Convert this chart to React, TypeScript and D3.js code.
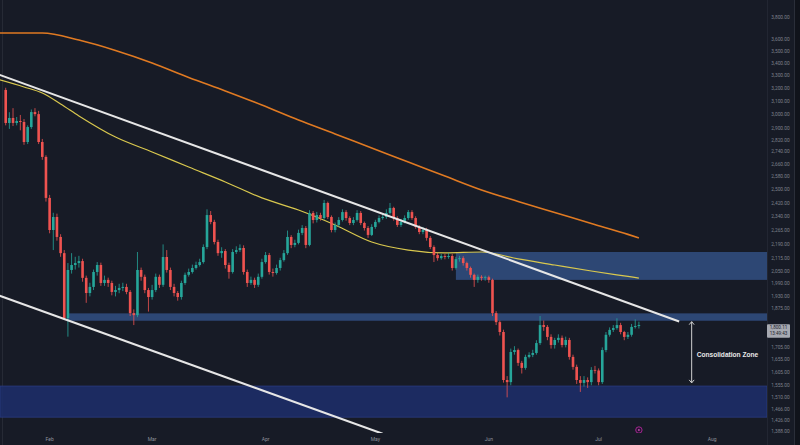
import React from 'react';
import * as d3 from 'd3';

const START = '2022-01-20';
const X_END = '2022-08-16';
const firstOpen = 3188;
const closes = [
  2942, 2978, 2942, 2956, 2949, 2809, 2913, 3021, 3006, 2809,
  2709, 2452, 2268, 2341, 2230, 2144, 1831, 2058, 2083, 2093,
  2103, 2019, 1946, 1975, 2048, 2083, 1994, 2009, 1994, 1951,
  1960, 1970, 1975, 1951, 1853, 1844, 2058, 2024, 1960, 1927,
  1960, 2024, 1985, 2124, 2058, 1975, 1946, 1927, 1994, 2034,
  2048, 2068, 2083, 2098, 2176, 2352, 2313, 2203, 2144, 2155,
  2083, 2048, 2150, 2160, 2171, 2048, 1994, 2009, 1985, 2024,
  2098, 2134, 2048, 2043, 2068, 2108, 2144, 2230, 2187, 2198,
  2252, 2279, 2187, 2364, 2324, 2352, 2335, 2422, 2341, 2268,
  2296, 2324, 2369, 2335, 2307, 2324, 2364, 2307, 2279, 2241,
  2285, 2313, 2335, 2341, 2364, 2393, 2335, 2296, 2313, 2335,
  2369, 2335, 2285, 2257, 2268, 2225, 2176, 2134, 2118, 2129,
  2124, 2129, 2068, 2113, 2118, 2093, 2068, 2034, 2009, 2024,
  2019, 2022, 2009, 1853, 1813, 1770, 1575, 1567, 1686, 1694,
  1642, 1622, 1666, 1674, 1682, 1723, 1800, 1792, 1749, 1715,
  1736, 1745, 1715, 1736, 1666, 1626, 1575, 1564, 1575, 1567,
  1614, 1612, 1567, 1694, 1758, 1779, 1787, 1800, 1770, 1749,
  1758, 1792, 1796, 1800.11,
];
const highs = [
  3205, 3020, 3050, 2985, 3000, 2970, 2925, 3040, 3050, 3030,
  2830, 2720, 2470, 2365, 2360, 2245, 2160, 2093, 2144, 2125,
  2130, 2115, 2030, 1995, 2060, 2098, 2095, 2030, 2020, 2005,
  1980, 1990, 1995, 1990, 1960, 1870, 2150, 2070, 2035, 1970,
  1985, 2040, 2035, 2190, 2160, 2070, 1990, 1955, 2005, 2045,
  2065, 2085, 2100, 2115, 2190, 2385, 2375, 2325, 2215, 2175,
  2165, 2095, 2165, 2180, 2190, 2185, 2060, 2025, 2020, 2040,
  2115, 2150, 2145, 2065, 2085, 2120, 2160, 2265, 2240, 2215,
  2270, 2295, 2290, 2380, 2375, 2370, 2365, 2440, 2430, 2350,
  2310, 2340, 2385, 2380, 2345, 2340, 2380, 2375, 2315, 2290,
  2300, 2325, 2350, 2360, 2385, 2422, 2400, 2345, 2330, 2350,
  2381, 2380, 2345, 2295, 2285, 2280, 2235, 2185, 2145, 2140,
  2140, 2145, 2140, 2125, 2130, 2128, 2100, 2075, 2040, 2035,
  2032, 2030, 2030, 2015, 1862, 1820, 1780, 1590, 1700, 1710,
  1700, 1650, 1675, 1685, 1695, 1735, 1840, 1820, 1800, 1760,
  1745, 1760, 1755, 1750, 1745, 1675, 1635, 1590, 1590, 1585,
  1625, 1630, 1620, 1705, 1770, 1790, 1800, 1830, 1810, 1775,
  1770, 1805, 1825, 1815,
];
const lows = [
  2925, 2900, 2920, 2925, 2890, 2790, 2795, 2900, 2990, 2795,
  2690, 2430, 2250, 2160, 2210, 2125, 1822, 1750, 2040, 2060,
  2070, 2000, 1900, 1930, 1960, 2030, 1980, 1980, 1975, 1935,
  1930, 1945, 1955, 1940, 1840, 1800, 1835, 2005, 1945, 1860,
  1915, 1950, 1970, 1975, 2045, 1960, 1930, 1910, 1915, 1985,
  2025, 2040, 2060, 2075, 2090, 2165, 2300, 2190, 2130, 2120,
  2065, 2015, 2040, 2140, 2150, 2035, 1975, 1985, 1970, 1975,
  2015, 2090, 2035, 2025, 2035, 2055, 2100, 2135, 2170, 2175,
  2190, 2240, 2170, 2180, 2305, 2310, 2320, 2325, 2330, 2255,
  2255, 2285, 2315, 2320, 2295, 2295, 2315, 2295, 2265, 2225,
  2235, 2275, 2305, 2325, 2330, 2355, 2320, 2285, 2285, 2305,
  2325, 2325, 2275, 2245, 2245, 2210, 2165, 2098, 2105, 2110,
  2112, 2115, 2055, 2060, 2100, 2080, 2055, 2020, 1975, 1995,
  2005, 2005, 1995, 1840, 1800, 1755, 1565, 1510, 1555, 1675,
  1630, 1600, 1615, 1660, 1665, 1675, 1715, 1775, 1735, 1700,
  1700, 1725, 1705, 1705, 1655, 1615, 1560, 1530, 1550, 1545,
  1555, 1600, 1555, 1560, 1685, 1750, 1770, 1780, 1760, 1735,
  1740, 1750, 1785, 1785,
];

const ma200Dates = ['2022-01-18', '2022-01-30', '2022-02-09', '2022-02-19', '2022-03-01', '2022-03-11', '2022-03-21', '2022-03-31', '2022-04-10', '2022-04-20', '2022-04-30', '2022-05-10', '2022-05-20', '2022-05-30', '2022-06-09', '2022-06-19', '2022-06-29', '2022-07-09', '2022-07-12'];
const ma200 = [3661, 3661, 3599, 3509, 3404, 3286, 3180, 3073, 2963, 2865, 2768, 2676, 2586, 2500, 2431, 2367, 2304, 2244, 2224];
const ma100Dates = ['2022-01-18', '2022-01-25', '2022-01-30', '2022-02-04', '2022-02-09', '2022-02-19', '2022-03-01', '2022-03-11', '2022-03-21', '2022-03-31', '2022-04-10', '2022-04-20', '2022-04-30', '2022-05-10', '2022-05-20', '2022-05-30', '2022-06-09', '2022-06-19', '2022-06-29', '2022-07-09', '2022-07-12'];
const ma100 = [3270, 3211, 3164, 3081, 2993, 2843, 2742, 2643, 2549, 2452, 2381, 2296, 2203, 2160, 2145, 2150, 2114, 2083, 2053, 2026, 2018];

const upperTrendDates = ['2022-01-18', '2022-07-23'];
const upperTrendPrices = [3311, 1816];
const lowerTrendDates = ['2022-01-18', '2022-05-03'];
const lowerTrendPrices = [1935, 1382];

const zoneStarts = ['2022-05-23T00:00:00Z', '2022-02-05T18:00:00Z', '2022-01-18T00:00:00Z'];
const zoneTops = [2150, 1852, 1552];
const zoneBottoms = [2009, 1819, 1439];

const priceTicks = [3800, 3600, 3500, 3400, 3300, 3200, 3100, 3000, 2900, 2820, 2740, 2660, 2580, 2500, 2420, 2340, 2265, 2190, 2115, 2050, 1990, 1930, 1875, 1815, 1760, 1705, 1655, 1605, 1555, 1510, 1466, 1426, 1388];

const arrowDate = '2022-07-26T10:00:00Z';
const arrowTop = 1815;
const arrowBottom = 1564;
const labelDate = '2022-07-27T19:00:00Z';
const labelPrice = 1674;
const labelText = 'Consolidation Zone';
const lastPrice = 1800.11;
const countdown = '13:49:43';
const eventDate = '2022-07-12';

const W = 800;
const H = 445;
const PANE_R = 767;
const PANE_B = 433;
const BG = '#171b26';
const UP = '#26a69a';
const DOWN = '#ef5350';

export default function App() {
  const start = new Date(START + 'T00:00:00Z');
  const x = d3.scaleUtc().domain([start, new Date(X_END + 'T00:00:00Z')]).range([5.7, PANE_R]);
  const y = d3.scaleLog().domain([3800, 1388]).range([17.7, 432]);
  const dt = (s: string) => new Date(s.length <= 10 ? s + 'T00:00:00Z' : s);

  const candles = closes.map((c, i) => ({
    date: d3.utcDay.offset(start, i),
    open: i === 0 ? firstOpen : closes[i - 1],
    close: c,
    high: highs[i],
    low: lows[i],
  }));

  const line = d3
    .line<[Date, number]>()
    .x((d) => x(d[0]))
    .y((d) => y(d[1]))
    .curve(d3.curveMonotoneX);
  const straight = d3
    .line<[Date, number]>()
    .x((d) => x(d[0]))
    .y((d) => y(d[1]));

  const ma200Path = line(ma200Dates.map((d, i) => [dt(d), ma200[i]]));
  const ma100Path = line(ma100Dates.map((d, i) => [dt(d), ma100[i]]));
  const upPath = straight(upperTrendDates.map((d, i) => [dt(d), upperTrendPrices[i]]));
  const loPath = straight(lowerTrendDates.map((d, i) => [dt(d), lowerTrendPrices[i]]));

  const monthTicks = d3.utcMonth.range(new Date('2022-02-01T00:00:00Z'), new Date('2022-08-02T00:00:00Z'));
  const fmtMonth = d3.utcFormat('%b');
  const fmtPrice = d3.format(',.2f');

  const bodyW = 2.6;
  const ax = x(dt(arrowDate));
  const ay1 = y(arrowTop);
  const ay2 = y(arrowBottom);
  const lpY = y(lastPrice);
  const boxTop = lpY - 0.8;
  const boxH = 13.5;
  const visibleTicks = priceTicks.filter((p) => {
    const py = y(p);
    return py < boxTop - 2.6 || py > boxTop + boxH + 2.6;
  });

  return (
    <svg
      width={W}
      height={H}
      style={{ position: 'fixed', left: 0, top: 0, display: 'block' }}
      fontFamily="Roboto, 'Liberation Sans', sans-serif"
    >
      <defs>
        <clipPath id="pane">
          <rect x={0} y={0} width={PANE_R} height={PANE_B} />
        </clipPath>
      </defs>
      <rect x={0} y={0} width={W} height={H} fill={BG} />
      <rect x={794} y={0} width={6} height={H} fill="#10131b" />
      <line x1={794.5} x2={794.5} y1={0} y2={H} stroke="#2a2e39" strokeWidth={1} />
      <line x1={2.5} x2={2.5} y1={0} y2={H} stroke="#262a35" strokeWidth={1} />
      <line x1={PANE_R + 0.5} x2={PANE_R + 0.5} y1={0} y2={H} stroke="#222632" strokeWidth={1} />

      <g clipPath="url(#pane)">
        {zoneStarts.map((s, i) => {
          const x0 = Math.max(0, x(dt(s)));
          const isDeep = i === 2;
          return (
            <rect
              key={'z' + i}
              x={x0}
              y={y(zoneTops[i])}
              width={PANE_R - x0}
              height={y(zoneBottoms[i]) - y(zoneTops[i])}
              fill={isDeep ? '#1d2d68' : '#3f6bb5'}
              fillOpacity={isDeep ? 0.9 : 0.55}
              stroke={isDeep ? '#2a3c80' : 'none'}
              strokeWidth={0.8}
            />
          );
        })}

        <path d={ma200Path || ''} fill="none" stroke="#e07a22" strokeWidth={1.6} />
        <path d={ma100Path || ''} fill="none" stroke="#d9c84e" strokeWidth={1.2} />

        {candles.map((c, i) => {
          const cx = x(c.date);
          const up = c.close >= c.open;
          const col = up ? UP : DOWN;
          const top = y(Math.max(c.open, c.close));
          const bot = y(Math.min(c.open, c.close));
          return (
            <g key={'c' + i}>
              <line x1={cx} x2={cx} y1={y(c.high)} y2={y(c.low)} stroke={col} strokeWidth={0.8} />
              <rect x={cx - bodyW / 2} y={top} width={bodyW} height={Math.max(0.8, bot - top)} fill={col} />
            </g>
          );
        })}

        <path d={upPath || ''} fill="none" stroke="#e6e6e6" strokeWidth={2} />
        <path d={loPath || ''} fill="none" stroke="#e6e6e6" strokeWidth={2} />

        <line x1={ax} x2={ax} y1={ay1} y2={ay2} stroke="#cfcfcf" strokeWidth={1} />
        <path d={`M${ax - 2.5},${ay1 + 3}L${ax},${ay1}L${ax + 2.5},${ay1 + 3}`} fill="none" stroke="#cfcfcf" strokeWidth={1} />
        <path d={`M${ax - 2.5},${ay2 - 3}L${ax},${ay2}L${ax + 2.5},${ay2 - 3}`} fill="none" stroke="#cfcfcf" strokeWidth={1} />
        <text
          x={x(dt(labelDate))}
          y={y(labelPrice)}
          dominantBaseline="middle"
          fontSize={6.6}
          fontWeight={700}
          fill="#e8e8e8"
          fontFamily="'Liberation Sans', Arial, sans-serif"
        >
          {labelText}
        </text>

        <circle cx={x(dt(eventDate))} cy={PANE_B - 3} r={3.2} fill="#2a1233" stroke="#a0288f" strokeWidth={1} />
        <circle cx={x(dt(eventDate))} cy={PANE_B - 3} r={0.9} fill="#c04fb0" />
      </g>

      {visibleTicks.map((p) => (
        <text
          key={'p' + p}
          x={780.5}
          y={y(p)}
          textAnchor="middle"
          dominantBaseline="middle"
          fontSize={4.8}
          fill="#7d808b"
        >
          {fmtPrice(p)}
        </text>
      ))}

      <rect x={PANE_R} y={boxTop} width={23} height={boxH} rx={1} fill="#a6a9b1" />
      <text x={778.5} y={boxTop + 3.6} textAnchor="middle" dominantBaseline="middle" fontSize={4.6} fill="#1e222d">
        {fmtPrice(lastPrice)}
      </text>
      <text x={778.5} y={boxTop + 9.6} textAnchor="middle" dominantBaseline="middle" fontSize={4.6} fill="#1e222d">
        {countdown}
      </text>

      {monthTicks.map((m) => (
        <text
          key={'m' + m.getTime()}
          x={x(m)}
          y={440}
          textAnchor="middle"
          dominantBaseline="middle"
          fontSize={5}
          fill="#8e919b"
        >
          {fmtMonth(m)}
        </text>
      ))}
    </svg>
  );
}
